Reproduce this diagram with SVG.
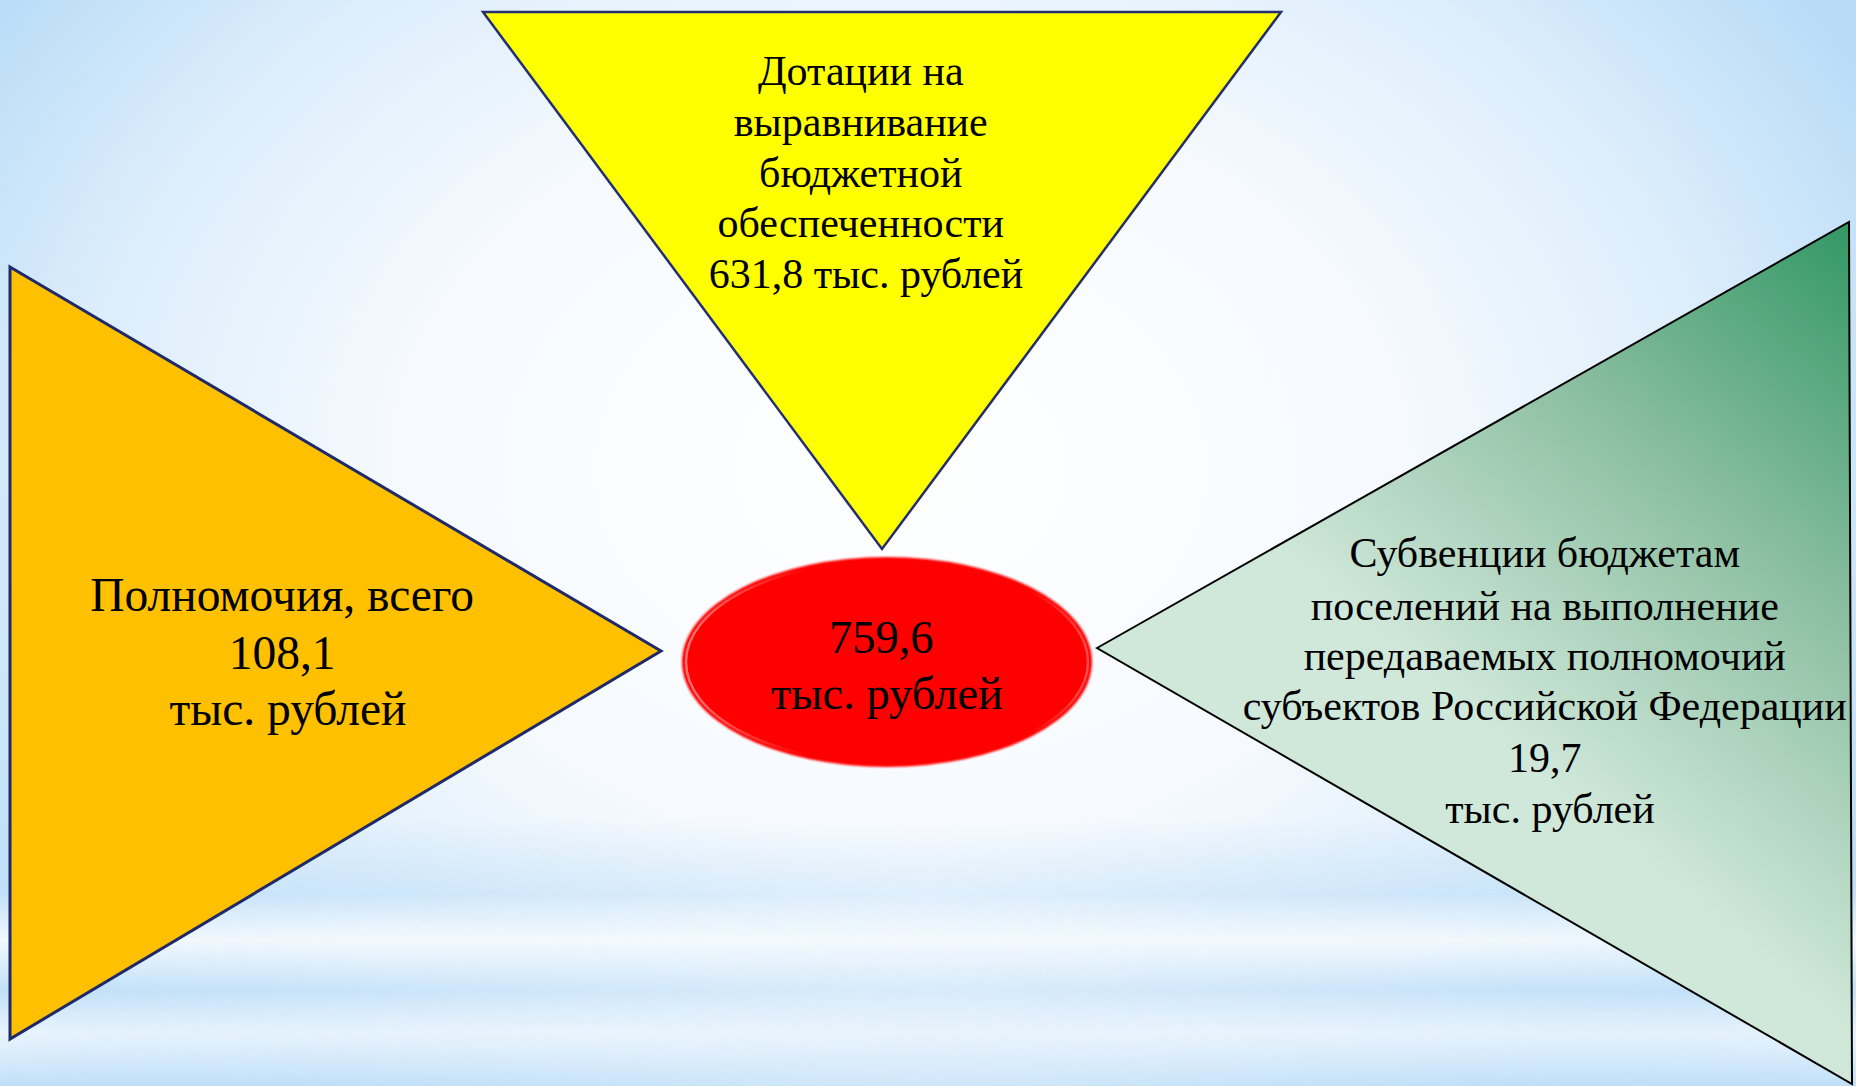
<svg xmlns="http://www.w3.org/2000/svg" width="1856" height="1086" viewBox="0 0 1856 1086">
  <defs>
    <radialGradient id="bg" cx="900" cy="470" r="1100" gradientUnits="userSpaceOnUse" gradientTransform="translate(900 470) scale(1 0.75) translate(-900 -470)">
      <stop offset="0" stop-color="#ffffff"/>
      <stop offset="0.45" stop-color="#f6fafe"/>
      <stop offset="0.75" stop-color="#dcedfb"/>
      <stop offset="1" stop-color="#b8dcf7"/>
    </radialGradient>
    <linearGradient id="bands" x1="0" y1="820" x2="0" y2="1086" gradientUnits="userSpaceOnUse">
      <stop offset="0" stop-color="#c3e1f8" stop-opacity="0"/>
      <stop offset="0.28" stop-color="#c3e1f8" stop-opacity="0.85"/>
      <stop offset="0.45" stop-color="#ffffff" stop-opacity="0.8"/>
      <stop offset="0.64" stop-color="#c3e1f8" stop-opacity="0.9"/>
      <stop offset="0.8" stop-color="#f4f9fe" stop-opacity="0.8"/>
      <stop offset="1" stop-color="#bfdff8" stop-opacity="1"/>
    </linearGradient>
    <linearGradient id="bandmask" x1="0" y1="0" x2="1856" y2="0" gradientUnits="userSpaceOnUse">
      <stop offset="0" stop-color="#fff" stop-opacity="1"/>
      <stop offset="0.5" stop-color="#fff" stop-opacity="0.45"/>
      <stop offset="1" stop-color="#fff" stop-opacity="1"/>
    </linearGradient>
    <mask id="m">
      <rect x="0" y="0" width="1856" height="1086" fill="url(#bandmask)"/>
    </mask>
    <linearGradient id="green" x1="1850" y1="230" x2="1450" y2="700" gradientUnits="userSpaceOnUse">
      <stop offset="0" stop-color="#349865"/>
      <stop offset="0.5" stop-color="#8ec0a3"/>
      <stop offset="1" stop-color="#d0e8da"/>
    </linearGradient>
    <linearGradient id="rim" x1="0" y1="0" x2="1" y2="0">
      <stop offset="0" stop-color="#ffffff" stop-opacity="0.45"/>
      <stop offset="0.3" stop-color="#ffffff" stop-opacity="0"/>
      <stop offset="0.85" stop-color="#ffffff" stop-opacity="0"/>
      <stop offset="1" stop-color="#ffffff" stop-opacity="0.3"/>
    </linearGradient>
    <filter id="soft" x="-5%" y="-5%" width="110%" height="110%">
      <feGaussianBlur stdDeviation="1"/>
    </filter>
  </defs>
  <style>
    .t { font-family: "Liberation Serif", "Times New Roman", serif; fill: #000; text-anchor: middle; }
    .s42 { font-size: 42px; }
    .s46 { font-size: 46.5px; }
    .s47 { font-size: 47.5px; }
  </style>

  <g id="background">
    <rect x="0" y="0" width="1856" height="1086" fill="url(#bg)"/>
    <rect x="0" y="820" width="1856" height="266" fill="url(#bands)" mask="url(#m)"/>
  </g>

  <g id="connectors"/>

  <g id="node-yellow">
    <polygon points="483,12 1281,12 882,549" fill="#ffff00" stroke="#24306e" stroke-width="2.5" stroke-linejoin="miter"/>
    <text class="t s42">
      <tspan x="866" y="85">Дотации на</tspan>
      <tspan x="866" y="136">выравнивание</tspan>
      <tspan x="866" y="187">бюджетной</tspan>
      <tspan x="866" y="237">обеспеченности</tspan>
      <tspan x="866" y="288">631,8 тыс. рублей</tspan>
    </text>
  </g>

  <g id="node-orange">
    <polygon points="10,267 661,651 10,1039" fill="#ffc000" stroke="#1f2a6b" stroke-width="3"/>
    <text class="t s47">
      <tspan x="288" y="611">Полномочия, всего</tspan>
      <tspan x="288" y="669">108,1</tspan>
      <tspan x="288" y="725">тыс. рублей</tspan>
    </text>
  </g>

  <g id="node-green">
    <polygon points="1097,648 1849,222 1852,1084" fill="url(#green)" stroke="#000000" stroke-width="2"/>
    <text class="t s42">
      <tspan x="1550" y="567">Субвенции бюджетам</tspan>
      <tspan x="1550" y="620">поселений на выполнение</tspan>
      <tspan x="1550" y="670">передаваемых полномочий</tspan>
      <tspan x="1550" y="720">субъектов Российской Федерации</tspan>
      <tspan x="1550" y="772">19,7</tspan>
      <tspan x="1550" y="823">тыс. рублей</tspan>
    </text>
  </g>

  <g id="node-center">
    <ellipse cx="887" cy="662" rx="205" ry="105" fill="#ff0000" filter="url(#soft)"/>
    <ellipse cx="887" cy="662" rx="201" ry="101" fill="none" stroke="url(#rim)" stroke-width="2.5"/>
    <text class="t s46">
      <tspan x="887" y="653">759,6</tspan>
      <tspan x="887" y="709">тыс. рублей</tspan>
    </text>
  </g>
</svg>
